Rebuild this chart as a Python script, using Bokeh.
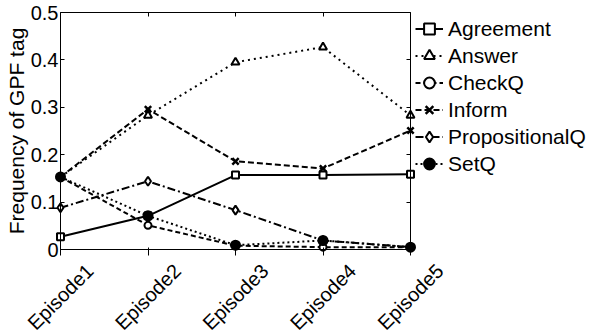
import math
from bokeh.plotting import figure
from bokeh.models import Range1d, FixedTicker, LinearAxis, Legend, LegendItem, Label
from bokeh.embed import file_html
from bokeh.resources import INLINE

episodes = ["Episode1", "Episode2", "Episode3", "Episode4", "Episode5"]
x_pos = [1, 2, 3, 4, 5]
agreement = [0.027, 0.071, 0.157, 0.157, 0.159]
answer = [0.153, 0.283, 0.395, 0.427, 0.283]
checkq = [0.153, 0.051, 0.008, 0.005, 0.005]
inform = [0.153, 0.296, 0.186, 0.171, 0.251]
propq = [0.088, 0.144, 0.083, 0.019, 0.005]
setq = [0.153, 0.071, 0.009, 0.019, 0.005]
y_ticks = [0, 0.1, 0.2, 0.3, 0.4, 0.5]
y_tick_labels = ["0", "0.1", "0.2", "0.3", "0.4", "0.5"]

FONT = "Liberation Sans"
W, H = 593, 335
# pixel layout of the plotted box
BOX_L, BOX_R, BOX_T, BOX_B = 60, 410, 12, 249
px_x = (BOX_R - BOX_L) / (x_pos[-1] - x_pos[0])
px_y = (BOX_B - BOX_T) / (y_ticks[-1] - y_ticks[0])
x_start = x_pos[0] - BOX_L / px_x
x_end = x_pos[-1] + (W - BOX_R) / px_x
y_start = y_ticks[0] - (H - BOX_B) / px_y
y_end = y_ticks[-1] + BOX_T / px_y

p = figure(width=W, height=H, output_backend="svg", toolbar_location=None,
           x_range=Range1d(x_start, x_end), y_range=Range1d(y_start, y_end),
           min_border_left=0, min_border_right=0, min_border_top=0, min_border_bottom=0)
p.grid.visible = False
p.outline_line_color = None
p.background_fill_color = "white"
p.border_fill_color = "white"

# bottom axis (ticks only) at y = 0
p.xaxis.ticker = FixedTicker(ticks=x_pos)
p.xaxis.major_label_overrides = {x: "" for x in x_pos}
p.xaxis.fixed_location = y_ticks[0]
p.xaxis.bounds = (x_pos[0], x_pos[-1])

# left axis at x = Episode1
p.yaxis.ticker = FixedTicker(ticks=y_ticks)
p.yaxis.fixed_location = x_pos[0]
p.yaxis.bounds = (y_ticks[0], y_ticks[-1])
p.yaxis.major_label_overrides = {t: l for t, l in zip(y_ticks, y_tick_labels)}
p.yaxis.major_label_text_font = FONT
p.yaxis.major_label_text_font_size = "20px"
p.yaxis.major_label_text_color = "black"
p.yaxis.major_label_standoff = 2
p.yaxis.axis_label = "Frequency of GPF tag"
p.yaxis.axis_label_text_font = FONT
p.yaxis.axis_label_text_font_size = "21px"
p.yaxis.axis_label_text_font_style = "normal"
p.yaxis.axis_label_text_color = "black"
p.yaxis.axis_label_standoff = 0

top = LinearAxis(ticker=FixedTicker(ticks=x_pos), major_label_overrides={x: "" for x in x_pos},
                 fixed_location=y_ticks[-1], bounds=(x_pos[0], x_pos[-1]))
right = LinearAxis(ticker=FixedTicker(ticks=y_ticks), major_label_overrides={t: "" for t in y_ticks},
                   fixed_location=x_pos[-1], bounds=(y_ticks[0], y_ticks[-1]))
p.add_layout(top, "above")
p.add_layout(right, "right")

for ax in (p.xaxis[0], p.yaxis[0], top, right):
    ax.major_tick_in = 4
    ax.major_tick_out = 0
    ax.minor_tick_in = 0
    ax.minor_tick_out = 0
    ax.axis_line_color = "black"
    ax.axis_line_width = 1
    ax.major_tick_line_color = "black"

for xp, ep in zip(x_pos, episodes):
    p.add_layout(Label(x=xp, y=-0.1, text=ep, angle=math.pi / 4,
                       text_align="center", text_baseline="middle",
                       text_font=FONT, text_font_size="20px", text_color="black"))

series = [
    ("Agreement", agreement, "solid", "square", 7, "white"),
    ("Answer", answer, "2 4", "triangle", 8, "white"),
    ("CheckQ", checkq, "5 3", "circle", 7, "white"),
    ("Inform", inform, "6 3", "x", 9, None),
    ("PropositionalQ", propq, "8 3 2 3", "diamond", 9, "white"),
    ("SetQ", setq, "2 3", "circle", 9, "black"),
]

items = []
for name, ys, dash, marker, size, fill in series:
    r1 = p.line(x_pos, ys, line_color="black", line_width=2, line_dash=dash)
    if fill is None:
        r2 = p.scatter(x_pos, ys, marker=marker, size=size, line_color="black", line_width=2.5)
    else:
        r2 = p.scatter(x_pos, ys, marker=marker, size=size, line_color="black",
                       fill_color=fill, line_width=2)
    items.append(LegendItem(label=name, renderers=[r1, r2]))

legend = Legend(items=items, location=(BOX_R + 5, 158), border_line_color=None,
                background_fill_alpha=0, padding=0, margin=0, spacing=0,
                glyph_width=28, glyph_height=27, label_standoff=5,
                label_height=27,
                label_text_font=FONT, label_text_font_size="21px",
                label_text_color="black")
p.add_layout(legend)

open("out.html", "w").write(file_html(p, INLINE))
